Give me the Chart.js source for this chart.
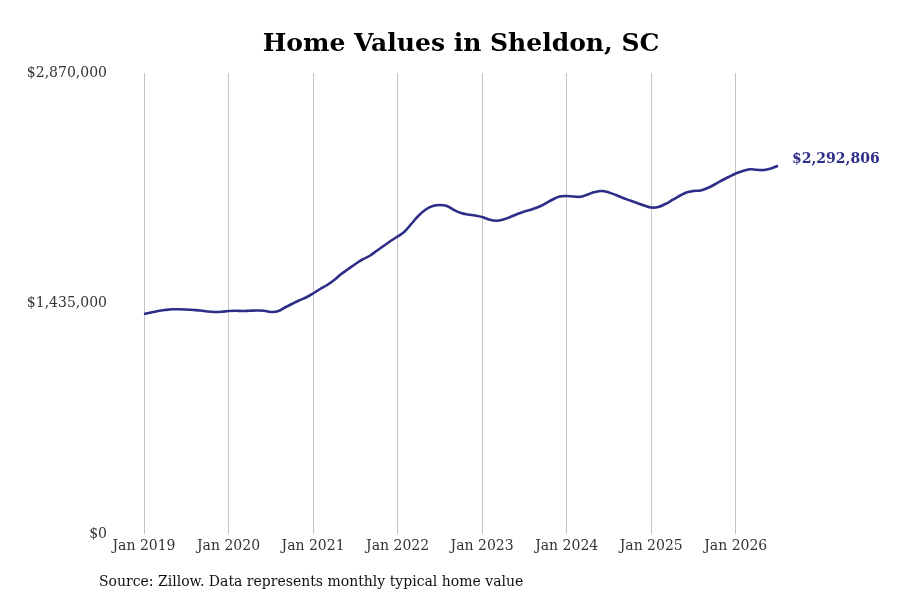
<!DOCTYPE html>
<html>
<head>
<meta charset="utf-8">
<script src="https://cdn.jsdelivr.net/npm/chart.js@4/dist/chart.umd.min.js"></script>
<style>
  html, body { margin: 0; padding: 0; background: #fff; }
  #wrap { width: 900px; height: 600px; }
</style>
</head>
<body>
<div id="wrap"><canvas id="myChart" width="900" height="600"></canvas></div>
<script>
const SERIF = '"DejaVu Serif", serif';

// monthly typical home value, Jan 2019 .. Jul 2026
const homeValues = [
  1369600, 1379000, 1388300, 1394500, 1398900, 1399500, 1397600, 1394500, 1391400, 1385200, 1382100, 1383300,
  1388300, 1390200, 1388300, 1389500, 1391400, 1390200, 1382100, 1386400, 1410100, 1431900, 1453700, 1472400,
  1497300, 1525300, 1550200, 1581300, 1618700, 1649800, 1680900, 1708900, 1730700, 1761800, 1793000, 1824100,
  1852100, 1883200, 1933100, 1982800, 2020200, 2042000, 2048200, 2042000, 2017100, 1998400, 1989100, 1982800,
  1973500, 1957900, 1950500, 1957900, 1973500, 1992200, 2007800, 2020200, 2035800, 2057600, 2082500, 2101100,
  2104300, 2101100, 2099900, 2113600, 2129200, 2135400, 2126000, 2110500, 2091800, 2076200, 2060700, 2045100,
  2032700, 2035800, 2054400, 2079400, 2104300, 2126000, 2135400, 2138500, 2154100, 2175800, 2200800, 2222500,
  2244300, 2259900, 2270500, 2267400, 2266100, 2275500, 2292806
];

const monthNames = ['Jan', 'Feb', 'Mar', 'Apr', 'May', 'Jun', 'Jul', 'Aug', 'Sep', 'Oct', 'Nov', 'Dec'];
const months = [];
for (let i = 0; i < homeValues.length; i++) {
  months.push(monthNames[i % 12] + ' ' + (2019 + Math.floor(i / 12)));
}

const yTicks = [0, 1435000, 2870000];
const lineColor = '#2e2d88';

const fmt = (v) => '$' + v.toLocaleString('en-US');

const endLabel = {
  id: 'endLabel',
  afterDatasetsDraw(chart) {
    const meta = chart.getDatasetMeta(0);
    const pt = meta.data[meta.data.length - 1];
    const ctx = chart.ctx;
    ctx.save();
    ctx.font = 'bold 14px ' + SERIF;
    ctx.fillStyle = lineColor;
    ctx.textAlign = 'left';
    ctx.textBaseline = 'middle';
    ctx.fillText(fmt(homeValues[homeValues.length - 1]), pt.x + 14, pt.y - 6);
    ctx.restore();
  }
};

const sourceNote = {
  id: 'sourceNote',
  afterDraw(chart) {
    const ctx = chart.ctx;
    ctx.save();
    ctx.font = '14px ' + SERIF;
    ctx.fillStyle = '#111';
    ctx.textAlign = 'left';
    ctx.textBaseline = 'middle';
    ctx.fillText('Source: Zillow. Data represents monthly typical home value', 99, 582);
    ctx.restore();
  }
};

new Chart(document.getElementById('myChart'), {
  type: 'line',
  data: {
    labels: months,
    datasets: [{
      data: homeValues,
      borderColor: lineColor,
      borderWidth: 2.6,
      pointRadius: 0,
      tension: 0.4,
      fill: false
    }]
  },
  options: {
    responsive: false,
    animation: false,
    layout: { padding: { left: 0, right: 122, top: 0, bottom: 0 } },
    plugins: {
      legend: { display: false },
      tooltip: { enabled: false },
      title: {
        display: true,
        text: 'Home Values in Sheldon, SC',
        fullSize: false,
        color: '#000',
        font: { family: SERIF, size: 25, weight: 'bold' },
        padding: { top: 29, bottom: 14 }
      }
    },
    scales: {
      x: {
        type: 'category',
        offset: false,
        border: { display: false },
        grid: {
          drawTicks: false,
          color: (c) => (c.index % 12 === 0 ? '#c4c4c4' : 'rgba(0,0,0,0)')
        },
        ticks: {
          autoSkip: false,
          maxRotation: 0,
          minRotation: 0,
          padding: 4,
          color: '#333',
          font: { family: SERIF, size: 14 },
          callback: (v, i) => (i % 12 === 0 ? months[i] : '')
        },
        afterFit: (axis) => { axis.height = 66; }
      },
      y: {
        min: 0,
        max: 2870000,
        border: { display: false },
        grid: { display: false, drawTicks: false },
        afterBuildTicks: (axis) => { axis.ticks = yTicks.map((v) => ({ value: v })); },
        afterFit: (axis) => { axis.width = 144; },
        ticks: {
          padding: 37,
          color: '#333',
          font: { family: SERIF, size: 14 },
          callback: (v) => fmt(v)
        }
      }
    }
  },
  plugins: [endLabel, sourceNote]
});
</script>
</body>
</html>
